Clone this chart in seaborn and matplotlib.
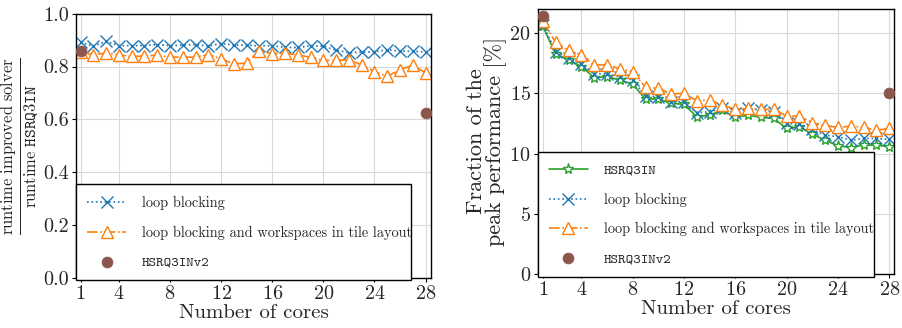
import numpy as np
import pandas as pd
import matplotlib
matplotlib.use("Agg")
import matplotlib.pyplot as plt
import seaborn as sns

cores = list(range(1, 29))

# Left panel: runtime ratio
ratio_loop_blocking = [0.892, 0.877, 0.895, 0.879, 0.879, 0.879, 0.883, 0.879, 0.881, 0.883,
                       0.877, 0.887, 0.881, 0.881, 0.878, 0.879, 0.872, 0.872, 0.878, 0.877,
                       0.862, 0.852, 0.855, 0.855, 0.864, 0.858, 0.858, 0.855]
ratio_tile_layout = [0.855, 0.845, 0.851, 0.844, 0.838, 0.840, 0.843, 0.835, 0.836, 0.835,
                     0.845, 0.829, 0.810, 0.813, 0.860, 0.848, 0.850, 0.844, 0.835, 0.823,
                     0.823, 0.826, 0.806, 0.781, 0.763, 0.788, 0.805, 0.776]
ratio_v2_cores = [1, 28]
ratio_v2 = [0.860, 0.625]

# Right panel: fraction of peak performance [%]
peak_hsrq3in = [20.56, 18.25, 17.78, 17.22, 16.31, 16.39, 16.11, 15.75, 14.53, 14.53,
                14.17, 14.08, 13.06, 13.19, 13.60, 13.00, 13.19, 13.00, 12.92, 12.08,
                12.22, 11.61, 11.11, 10.64, 10.50, 10.69, 10.69, 10.56]
peak_loop_blocking = [20.70, 18.47, 17.92, 17.44, 16.61, 16.61, 16.39, 16.11, 14.78, 14.72,
                      14.31, 14.31, 13.39, 13.47, 13.75, 13.33, 13.75, 13.60, 13.47, 12.50,
                      12.44, 12.00, 11.53, 11.39, 11.11, 11.25, 11.25, 11.17]
peak_tile_layout = [20.97, 19.22, 18.56, 18.20, 17.36, 17.36, 17.03, 16.80, 15.50, 15.42,
                    14.94, 15.00, 14.39, 14.44, 14.03, 13.67, 13.75, 13.67, 13.67, 13.11,
                    13.11, 12.56, 12.33, 12.17, 12.28, 12.17, 11.94, 12.08]
peak_v2_cores = [1, 28]
peak_v2 = [21.39, 15.06]

xticks = [1, 4, 8, 12, 16, 20, 24, 28]
label_hsrq = "HSRQ3IN"
label_lb = "loop blocking"
label_tile = "loop blocking and workspaces in tile layout"
label_v2 = "HSRQ3INv2"

sns.set_style("whitegrid")
plt.rcParams["font.family"] = ["cmr10", "DejaVu Serif"]
plt.rcParams["mathtext.fontset"] = "cm"
plt.rcParams["axes.formatter.use_mathtext"] = True
plt.rcParams["axes.edgecolor"] = "black"
plt.rcParams["grid.color"] = "#d9d9d9"

blue, orange, green, brown = "#1f77b4", "#ff7f0e", "#2ca02c", "#8c564b"

fig = plt.figure(figsize=(9.03, 3.28), dpi=100)
ax1 = fig.add_axes([0.0842, 0.1524, 0.393, 0.806])
ax2 = fig.add_axes([0.5955, 0.1646, 0.395, 0.808])

def style_axes(ax):
    for s in ax.spines.values():
        s.set_color("black")
        s.set_linewidth(1.0)
    ax.set_xticks(xticks)
    ax.tick_params(axis="both", labelsize=14.5, length=3, bottom=True, left=True, color="black", pad=2)
    ax.set_xlabel("Number of cores", fontsize=15, labelpad=1)

def finish_legend(ax, anchor):
    leg = ax.legend(loc="upper left", bbox_to_anchor=anchor, borderaxespad=0,
                    fancybox=False, framealpha=1, edgecolor="black", fontsize=10.3,
                    labelspacing=1.1, handlelength=2.7, handletextpad=1.1,
                    borderpad=0.8, mode="expand")
    leg.get_frame().set_linewidth(1.0)
    for t in leg.get_texts():
        if t.get_text().startswith("HSRQ"):
            t.set_fontfamily(["cmtt10", "DejaVu Sans Mono"])
    return leg

# Left panel
sns.lineplot(x=cores, y=ratio_loop_blocking, ax=ax1, color=blue, linestyle=":", lw=1.2,
             marker="x", markersize=9, markeredgecolor=blue, markeredgewidth=1.0, label=label_lb)
sns.lineplot(x=cores, y=ratio_tile_layout, ax=ax1, color=orange, linestyle="-.", lw=1.2,
             marker="^", markersize=8.5, markerfacecolor="white", markeredgecolor=orange,
             markeredgewidth=1.0, label=label_tile)
sns.scatterplot(x=ratio_v2_cores, y=ratio_v2, ax=ax1, color=brown, s=60, edgecolor=brown,
                zorder=5, label=label_v2)
ax1.set_xlim(0.65, 28.42)
ax1.set_ylim(0.0, 1.0)
ax1.set_yticks([0.0, 0.2, 0.4, 0.6, 0.8, 1.0])
ax1.yaxis.set_major_formatter(matplotlib.ticker.FormatStrFormatter("%.1f"))
style_axes(ax1)
ax1.set_ylabel(r"$\frac{\mathrm{runtime\ improved\ solver}}{\mathrm{runtime}\ \mathtt{HSRQ3IN}}$",
               fontsize=17, labelpad=2)
finish_legend(ax1, (0, 0.355, 0.944, 0.0))

# Right panel
sns.lineplot(x=cores, y=peak_hsrq3in, ax=ax2, color=green, linestyle="-", lw=1.2,
             marker="*", markersize=8, markerfacecolor="white", markeredgecolor=green,
             markeredgewidth=1.0, label=label_hsrq)
sns.lineplot(x=cores, y=peak_loop_blocking, ax=ax2, color=blue, linestyle=":", lw=1.2,
             marker="x", markersize=9, markeredgecolor=blue, markeredgewidth=1.0, label=label_lb)
sns.lineplot(x=cores, y=peak_tile_layout, ax=ax2, color=orange, linestyle="-.", lw=1.2,
             marker="^", markersize=8.5, markerfacecolor="white", markeredgecolor=orange,
             markeredgewidth=1.0, label=label_tile)
sns.scatterplot(x=peak_v2_cores, y=peak_v2, ax=ax2, color=brown, s=60, edgecolor=brown,
                zorder=5, label=label_v2)
ax2.set_xlim(0.6, 28.4)
ax2.set_ylim(0, 22)
ax2.set_yticks([0, 5, 10, 15, 20])
style_axes(ax2)
ax2.set_ylabel("Fraction of the\npeak performance [%]", fontsize=16, labelpad=2, linespacing=0.85)
finish_legend(ax2, (0, 0.46, 0.943, 0.0))

fig.savefig("out.png", dpi=100)
